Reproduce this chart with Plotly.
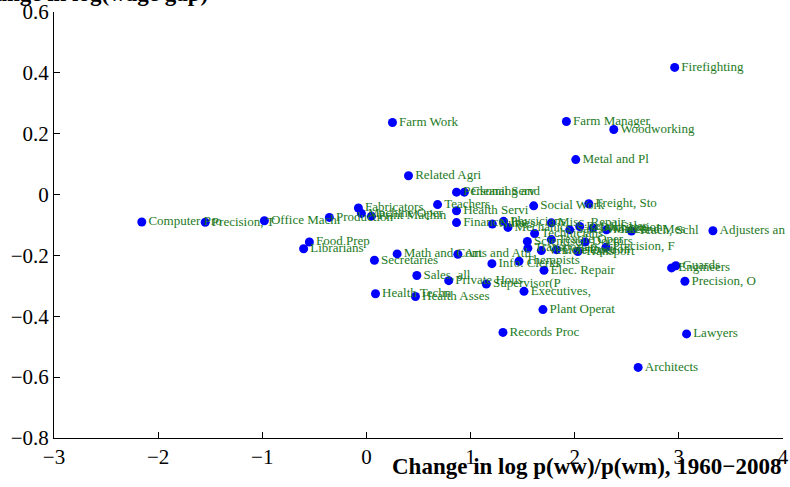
import plotly.graph_objects as go

labels = [
    "Firefighting", "Farm Manager", "Woodworking", "Metal and Pl", "Farm Work",
    "Related Agri", "Personal Serv", "Cleaning and", "Teachers", "Health Servi",
    "Finance, Ins", "Social Work", "Freight, Sto", "Adjusters an",
    "Computer Pro", "Precision, T", "Office Machi", "Production", "Fabricators",
    "Machine Oper", "Print Machin", "Food Prep", "Librarians", "Math and Com",
    "Arts and Ath", "Secretaries", "Sales, all", "Private Hous", "Supervisor(P",
    "Executives, ", "Plant Operat", "Records Proc", "Health Techn", "Health Asses",
    "Info. Clerks", "Therapists", "Elec. Repair", "Guards", "Engineers",
    "Precision, O", "Lawyers", "Architects",
    "Nurses", "Physicians", "Mechanics", "Scientists", "Transportati",
    "Technicians", "Misc. Repair", "Textile Oper", "Construction", "Sales Worker",
    "Retail Sales", "Distribution", "Mail and Mes", "Doctors", "Precision, F",
    "Teach, Schl", "Transport", "Vehicle Oper"
]
x_change = [
    2.96, 1.92, 2.375, 2.01, 0.25,
    0.404, 0.865, 0.94, 0.683, 0.865,
    0.865, 1.606, 2.135, 3.327,
    -2.157, -1.548, -0.98, -0.356, -0.077,
    -0.048, 0.048, -0.548, -0.603, 0.295,
    0.878, 0.077, 0.484, 0.79, 1.151,
    1.513, 1.695, 1.311, 0.087, 0.471,
    1.205, 1.465, 1.705, 2.971, 2.93,
    3.058, 3.074, 2.609,
    1.209, 1.317, 1.359, 1.545, 1.55,
    1.615, 1.776, 1.776, 1.824, 1.952,
    2.048, 2.176, 2.305, 2.10, 2.30,
    2.545, 2.03, 1.68
]
y_change = [
    0.418, 0.240, 0.214, 0.115, 0.237,
    0.062, 0.008, 0.008, -0.033, -0.053,
    -0.092, -0.037, -0.03, -0.119,
    -0.09, -0.091, -0.086, -0.075, -0.044,
    -0.062, -0.071, -0.156, -0.178, -0.195,
    -0.196, -0.216, -0.266, -0.283, -0.294,
    -0.318, -0.378, -0.453, -0.326, -0.335,
    -0.227, -0.219, -0.249, -0.234, -0.241,
    -0.285, -0.458, -0.568,
    -0.097, -0.088, -0.108, -0.154, -0.176,
    -0.128, -0.093, -0.148, -0.181, -0.116,
    -0.105, -0.11, -0.116, -0.156, -0.173,
    -0.12, -0.187, -0.184
]

x_ticks = [-3, -2, -1, 0, 1, 2, 3, 4]
x_tick_text = ["\u22123", "\u22122", "\u22121", "0", "1", "2", "3", "4"]
y_ticks = [-0.8, -0.6, -0.4, -0.2, 0, 0.2, 0.4, 0.6]
y_tick_text = ["\u22120.8", "\u22120.6", "\u22120.4", "\u22120.2", "0", "0.2", "0.4", "0.6"]

x_title = "Change in log p(ww)/p(wm), 1960\u22122008"
top_title = "Change in log(wage gap)"

serif = "Liberation Serif, Times New Roman, serif"

fig = go.Figure()
fig.add_trace(go.Scatter(
    x=x_change, y=y_change, text=labels,
    mode="markers+text", textposition="middle right",
    marker=dict(color="#0000FF", size=9, line=dict(width=0)),
    textfont=dict(family=serif, size=13, color="#1e7a1e"),
    cliponaxis=False, showlegend=False, hoverinfo="skip",
))

axis_common = dict(
    showgrid=False, zeroline=False, showline=True, linecolor="black",
    linewidth=1, ticks="inside", ticklen=6, tickcolor="black",
    tickfont=dict(family=serif, size=21, color="black"),
    automargin=False,
)
fig.update_xaxes(range=[-3, 4], tickvals=x_ticks, ticktext=x_tick_text, **axis_common)
fig.update_yaxes(range=[-0.8, 0.6], tickvals=y_ticks, ticktext=y_tick_text, **axis_common)

fig.update_layout(
    width=790, height=487,
    margin=dict(l=54, r=7, t=12, b=49, autoexpand=False),
    paper_bgcolor="white", plot_bgcolor="white",
    annotations=[
        dict(text="<b>" + x_title + "</b>", xref="paper", yref="paper",
             x=1.0, y=-0.066, xanchor="right", yanchor="middle", showarrow=False,
             font=dict(family=serif, size=23, color="black")),
        dict(text="<b>" + top_title + "</b>", xref="paper", yref="paper",
             x=-0.1235, y=1.0085, xanchor="left", yanchor="bottom", showarrow=False,
             font=dict(family=serif, size=23, color="black")),
    ],
)
fig.write_html(
    "out.html",
    config={"displayModeBar": False},
    post_script="document.body.style.margin='0';document.body.style.overflow='hidden';",
)
